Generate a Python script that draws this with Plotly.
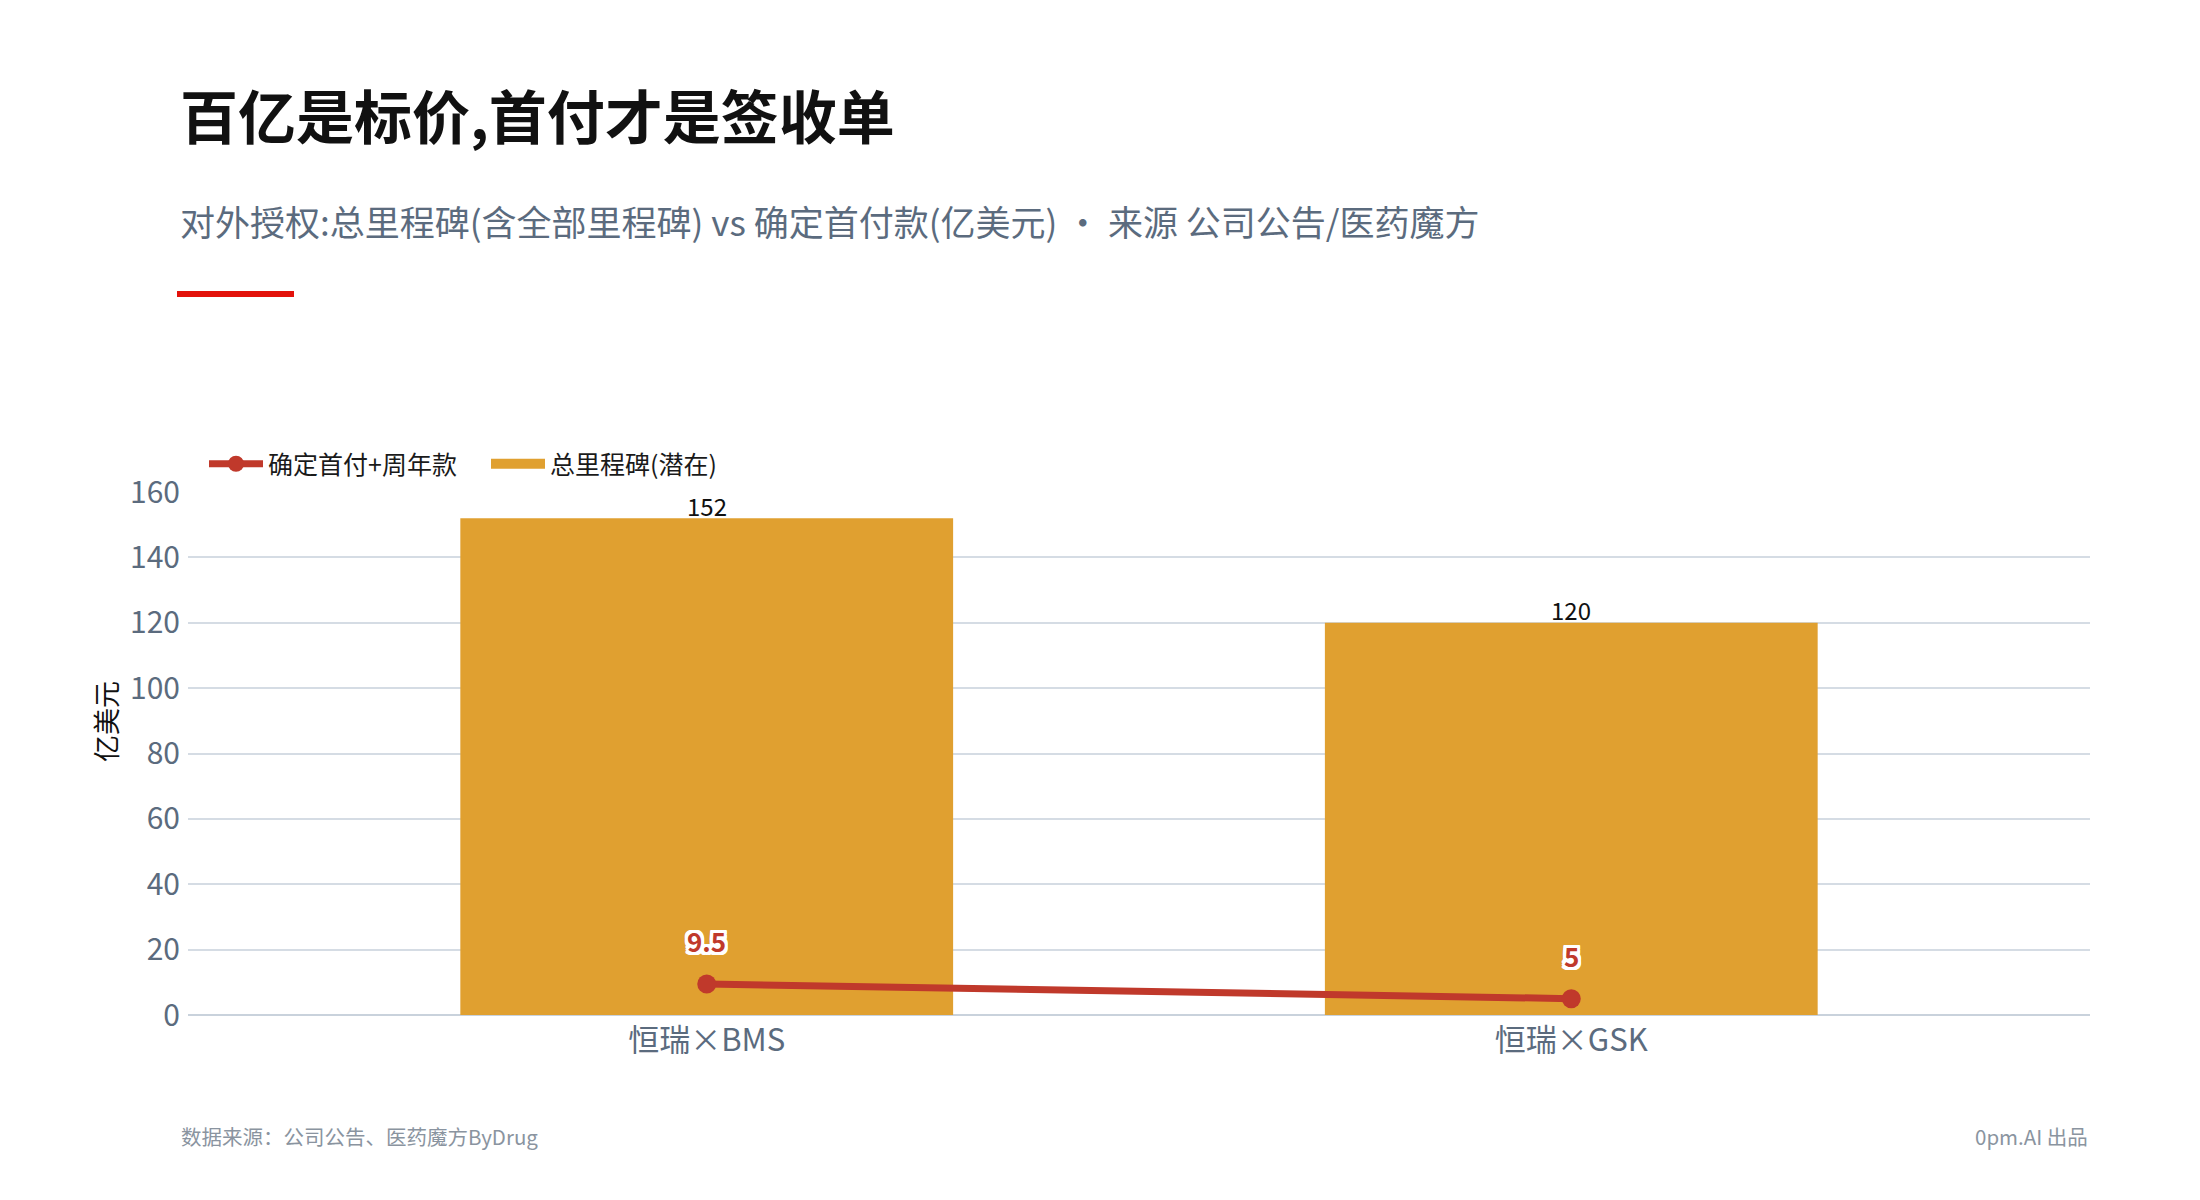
import plotly.graph_objects as go

categories = ["恒瑞×BMS", "恒瑞×GSK"]
milestone_total = [152, 120]
upfront = [9.5, 5]
y_ticks = [0, 20, 40, 60, 80, 100, 120, 140, 160]

title_text = "百亿是标价,首付才是签收单"
subtitle_text = "对外授权:总里程碑(含全部里程碑) vs 确定首付款(亿美元) · 来源 公司公告/医药魔方"
footer_left = "数据来源：公司公告、医药魔方ByDrug"
footer_right = "0pm.AI 出品"
y_title = "亿美元"
bar_name = "总里程碑(潜在)"
line_name = "确定首付+周年款"

FONT = "Noto Sans CJK SC, Noto Sans, sans-serif"
BAR_C = "#E0A030"
LINE_C = "#C0392B"
SLATE = "#5B6B7E"

W, H = 2200, 1200
L, R, T, B = 188, 110, 492, 185
pw, ph = W - L - R, H - T - B


def px_x(x):
    return (x - L) / pw


def px_y(y):
    return (H - B - y) / ph


fig = go.Figure()
fig.add_trace(go.Bar(
    x=categories, y=milestone_total, name=bar_name,
    marker=dict(color=BAR_C, line=dict(width=0)), width=0.57,
    showlegend=False, cliponaxis=False,
))
fig.add_trace(go.Scatter(
    x=categories, y=upfront, name=line_name,
    mode="lines+markers",
    line=dict(color=LINE_C, width=7),
    marker=dict(color=LINE_C, size=19),
    cliponaxis=False, legendrank=1,
))
# legend swatch for the bars (wide rectangle like the reference)
fig.add_trace(go.Scatter(
    x=[None], y=[None], name=bar_name, mode="lines",
    line=dict(color=BAR_C, width=17), legendrank=2, hoverinfo="skip",
))

for c, v in zip(categories, milestone_total):
    fig.add_annotation(
        x=c, y=v, xref="x", yref="y", text=f"{v:g}", showarrow=False,
        yanchor="middle", yshift=13,
        font=dict(size=24, color="#111111", family=FONT),
    )

outline = ", ".join(f"{dx}px {dy}px 0 #ffffff" for dx in (-3, -2, 0, 2, 3) for dy in (-3, -2, 0, 2, 3) if (dx, dy) != (0, 0))
for c, v in zip(categories, upfront):
    fig.add_annotation(
        x=c, y=v, xref="x", yref="y", text=f"{v:g}", showarrow=False,
        yanchor="middle", yshift=43,
        font=dict(size=26, color=LINE_C, family=FONT, weight=700, shadow=outline),
    )

# title / subtitle / accent / footer
fig.add_annotation(x=px_x(178), y=px_y(114), xref="paper", yref="paper", xanchor="left", yanchor="middle",
                   text=title_text, showarrow=False,
                   font=dict(size=58, color="#111111", family=FONT, weight=700))
fig.add_annotation(x=px_x(178), y=px_y(220), xref="paper", yref="paper", xanchor="left", yanchor="middle",
                   text=subtitle_text, showarrow=False,
                   font=dict(size=35, color=SLATE, family=FONT))
fig.add_shape(type="rect", xref="paper", yref="paper",
              x0=px_x(177), x1=px_x(294), y0=px_y(297), y1=px_y(291),
              fillcolor="#E3120B", line=dict(width=0))
fig.add_annotation(x=px_x(105), y=px_y(722), xref="paper", yref="paper", xanchor="center", yanchor="middle",
                   text=y_title, textangle=-90, showarrow=False,
                   font=dict(size=27, color="#111111", family=FONT))
fig.add_annotation(x=px_x(179), y=px_y(1136), xref="paper", yref="paper", xanchor="left", yanchor="middle",
                   text=footer_left, showarrow=False,
                   font=dict(size=20.5, color="#8A94A0", family=FONT))
fig.add_annotation(x=px_x(2090), y=px_y(1136), xref="paper", yref="paper", xanchor="right", yanchor="middle",
                   text=footer_right, showarrow=False,
                   font=dict(size=20.5, color="#8A94A0", family=FONT))

fig.update_layout(
    width=W, height=H,
    margin=dict(l=L, r=R, t=T, b=B, autoexpand=False),
    paper_bgcolor="#ffffff", plot_bgcolor="#ffffff",
    font=dict(family=FONT),
    showlegend=True,
    legend=dict(orientation="h", x=px_x(204), y=px_y(464), xanchor="left", yanchor="middle",
                itemwidth=54, entrywidth=213, entrywidthmode="pixels",
                font=dict(size=25, color="#1A1A1A", family=FONT), bgcolor="rgba(0,0,0,0)"),
)
fig.update_xaxes(
    type="category", range=[-0.6, 1.6], showgrid=False, showline=False, zeroline=False,
    ticks="", ticklabelstandoff=4,
    tickfont=dict(size=31, color=SLATE, family=FONT), automargin=False,
)
fig.update_yaxes(
    range=[0, 160], tickvals=y_ticks, showgrid=True, gridcolor="#D5DCE4", gridwidth=2,
    zeroline=True, zerolinecolor="#C9D2DC", zerolinewidth=2, showline=False, ticks="",
    ticklabelstandoff=7,
    tickfont=dict(size=30, color=SLATE, family=FONT), automargin=False,
)

fig.write_html("out.html", config={"displayModeBar": False},
               post_script="document.body.style.margin='0px';")
